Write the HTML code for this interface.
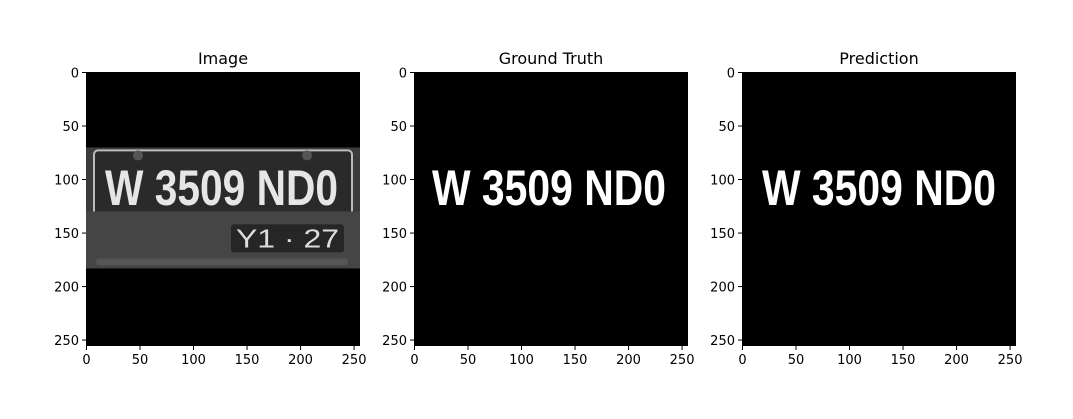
<!DOCTYPE html>
<html><head><meta charset="utf-8"><style>
body{margin:0;background:#fff}
svg{display:block}
text{font-family:"DejaVu Sans","Liberation Sans",sans-serif}
.plate{font-family:"Liberation Sans",sans-serif}
</style></head><body>
<svg id="fig" width="1073" height="419" viewBox="0 0 1073 419" xmlns="http://www.w3.org/2000/svg"></svg>
<script>
const panelTitles = ["Image", "Ground Truth", "Prediction"];
const xTicks = [0, 50, 100, 150, 200, 250];
const yTicks = [0, 50, 100, 150, 200, 250];
const imgSize = [256, 256];
const plateRows = [70, 183];
const NS = "http://www.w3.org/2000/svg";
const svg = document.getElementById("fig");
const panelLeft = [86, 414, 742], top0 = 72, W = 274, H = 274;
function el(tag, attrs, parent, txt){const e=document.createElementNS(NS,tag);for(const k in attrs)e.setAttribute(k,attrs[k]);if(txt!==undefined)e.textContent=txt;(parent||svg).appendChild(e);return e;}
panelTitles.forEach((t,i)=>{
  const L=panelLeft[i];
  const sx=v=>L+0.5+(v)*W/imgSize[0];
  const sy=v=>top0+0.5+(v)*H/imgSize[1];
  const g=el("g",{});
  
  
  el("rect",{x:L,y:top0,width:W,height:H,fill:"#000"},g);
  if(i===0){
    const y1=sy(plateRows[0]), y2=sy(plateRows[1]);
    el("rect",{x:L,y:y1,width:W,height:y2-y1,fill:"#3c3c3c"},g);
    el("rect",{x:L+8,y:y1+3,width:W-16,height:65,fill:"#2a2a2a",stroke:"#bbb","stroke-width":2,rx:4},g);
    el("rect",{x:L,y:y1+64,width:W,height:y2-y1-64,fill:"#454545"},g);
    el("circle",{cx:L+52,cy:y1+8,r:5,fill:"#555"},g);
    el("circle",{cx:L+221,cy:y1+8,r:5,fill:"#555"},g);
    el("rect",{x:L+145,y:y1+77,width:113,height:28,fill:"#262626",rx:3},g);
    el("rect",{x:L+10,y:y1+111,width:252,height:7,fill:"#555",rx:3},g);
    el("text",{class:"plate",x:L+150,y:y1+100,fill:"#ddd","font-size":26,textLength:103,lengthAdjust:"spacingAndGlyphs"},g,"Y1 \u00b7 27");
    el("text",{class:"plate",x:L+19,y:205,fill:"#e6e6e6","font-size":50,"font-weight":"bold",textLength:233,lengthAdjust:"spacingAndGlyphs"},g,"W 3509 ND0");
  } else {
    const tx = i===1?432:762;
    el("text",{class:"plate",x:tx,y:205,fill:"#fff","font-size":50,"font-weight":"bold",textLength:234,lengthAdjust:"spacingAndGlyphs"},g,"W 3509 ND0");
  }
  const tt=el("text",{x:L+W/2,y:64,"text-anchor":"middle","font-size":16,fill:"#000"},svg,t);
  
  
  xTicks.forEach(v=>{
    const x=sx(v);
    el("line",{x1:x,y1:top0+H,x2:x,y2:top0+H+4,stroke:"#000","stroke-width":1});
    const lt=el("text",{x:x,y:top0+H+18,"text-anchor":"middle","font-size":13,fill:"#000"},svg,String(v));
    
    
  });
  yTicks.forEach(v=>{
    const y=sy(v);
    el("line",{x1:L-4,y1:y,x2:L,y2:y,stroke:"#000","stroke-width":1});
    const lt=el("text",{x:L-7,y:y+5,"text-anchor":"end","font-size":13,fill:"#000"},svg,String(v));
    
    
  });
});
</script>
</body></html>
